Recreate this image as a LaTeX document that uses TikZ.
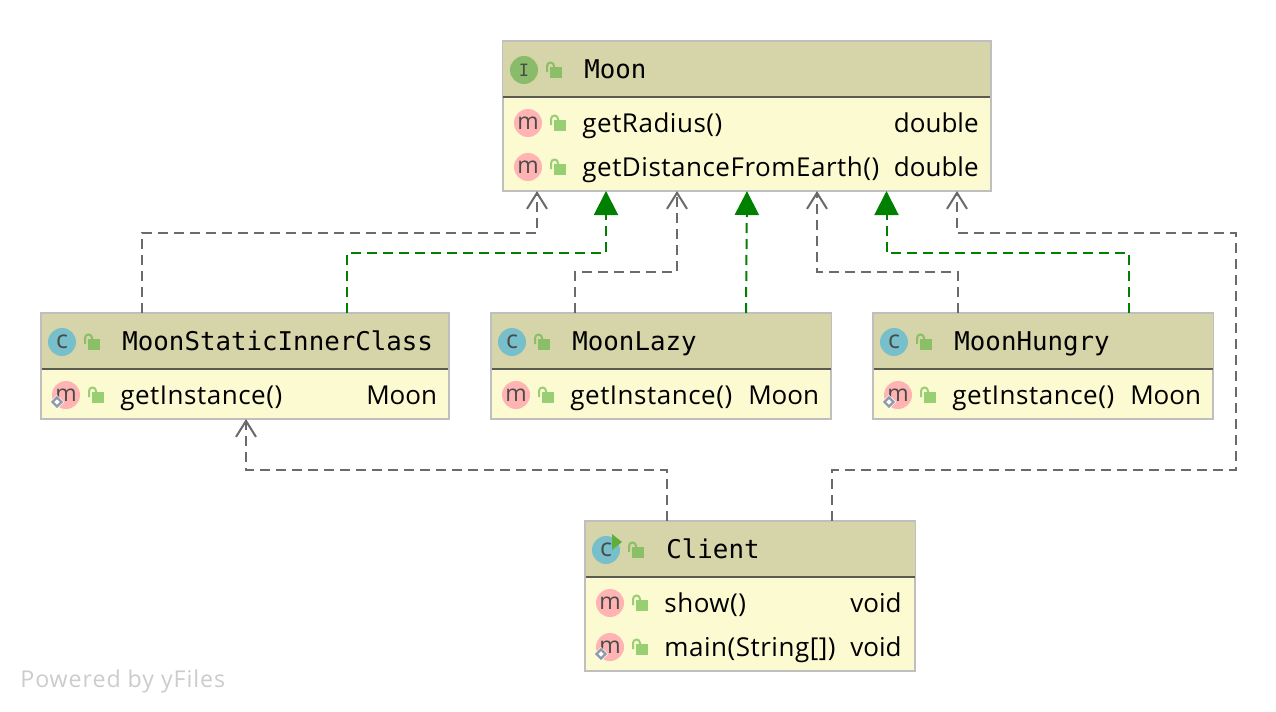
\documentclass[tikz,border=0pt]{standalone}
\usepackage{fontspec}
\setmainfont{Open Sans}
\newfontfamily\monofont{DejaVu Sans Mono}
\newfontfamily\namefont[LetterSpace=2]{Open Sans}
\newfontfamily\markfont[LetterSpace=4]{Open Sans}
\usetikzlibrary{arrows.meta}
\definecolor{headfill}{HTML}{D6D4A9}
\definecolor{rowfill}{HTML}{FCFAD1}
\definecolor{boxline}{HTML}{BFBFBF}
\definecolor{barline}{HTML}{5A5A50}
\definecolor{usesline}{HTML}{6A6A6A}
\definecolor{implline}{HTML}{008000}
\definecolor{lockhead}{HTML}{8ABF68}
\definecolor{lockrow}{HTML}{97CF72}
\definecolor{pinkfill}{HTML}{FFB3B3}
\definecolor{classfill}{HTML}{78BFCC}
\definecolor{facefill}{HTML}{8ABB6B}
\definecolor{glyphtext}{HTML}{4A4A4A}
\definecolor{staticgrey}{HTML}{8E9AA8}
\definecolor{runarrow}{HTML}{5FAE3C}
\tikzset{
  classbox/.style={draw=boxline,line width=1pt,fill=rowfill,inner sep=0pt,outer sep=0pt,anchor=north west},
  headbox/.style={fill=headfill,inner sep=0pt,outer sep=0pt,anchor=north west},
  titletext/.style={anchor=west,inner sep=0pt,text height=10.5pt,text depth=2pt,font=\monofont\fontsize{12.9}{14}\selectfont},
  rowtext/.style={anchor=west,inner sep=0pt,text height=11pt,text depth=2pt,font=\namefont\fontsize{13}{14}\selectfont},
  typetext/.style={anchor=east,inner sep=0pt,text height=11pt,text depth=2pt,font=\fontsize{13}{14}\selectfont},
  uses/.style={draw=usesline,line width=1pt,dash pattern=on 5pt off 3pt,-{Straight Barb[length=8pt,width=10pt,line width=1pt]}},
  impl/.style={draw=implline,line width=1pt,dash pattern=on 5pt off 3pt,-{Triangle[length=12pt,width=12pt,fill=implline]}},
  lockicon/.pic={
    \fill (-6,-3) rectangle (6,8);
    \draw[line width=1pt] (-9,2) -- (-9,-4) arc[start angle=180,end angle=360,radius=3.5] -- (-2,-3);
  },
  methodicon/.pic={
    \fill[fill=pinkfill] (0,0) circle[radius=14];
    \node[inner sep=0pt,text=glyphtext,font=\fontsize{11.5}{12}\selectfont] (glyph) at (0,0) {m};
  },
  staticmark/.pic={
    \fill[white] (0,-7) -- (7,0) -- (0,7) -- (-7,0) -- cycle;
    \draw[draw=staticgrey,line width=1.2pt] (0,-4.5) -- (4.5,0) -- (0,4.5) -- (-4.5,0) -- cycle;
  },
  classicon/.pic={
    \fill[fill=classfill] (0,0) circle[radius=14];
    \node[inner sep=0pt,text=glyphtext,font=\fontsize{12.5}{12}\selectfont] (glyph) at (0,0) {c};
  },
  faceicon/.pic={
    \fill[fill=facefill] (0,0) circle[radius=14];
    \node[inner sep=0pt,text=glyphtext,font=\monofont\fontsize{8.5}{10}\selectfont] (glyph) at (0,0) {I};
  },
}
\begin{document}
\begin{tikzpicture}[x=.5pt,y=-.5pt]
  \useasboundingbox (0,0) rectangle (1276,712);
  \fill[white] (0,0) rectangle (1276,712);

  % Moon
  \node[classbox,minimum width=244pt,minimum height=75pt] (moon) at (502.5,41) {};
  \node[headbox,minimum width=243.5pt,minimum height=27.5pt] (moonhead) at (503,41.5) {};
  \draw[barline,line width=1pt] (moonhead.south west) -- (moonhead.south east);
  \pic (moonface) at (524,70) {faceicon};
  \pic[lockhead] at (556,70) {lockicon};
  \node[titletext] (moontitle) at (584,70) {Moon};
  \pic (moonm1) at (528,123) {methodicon};
  \pic[lockrow] at (560,123) {lockicon};
  \node[rowtext] (moonname1) at (582,123) {getRadius()};
  \node[typetext] (moontype1) at (979,123) {double};
  \pic (moonm2) at (528,167) {methodicon};
  \pic[lockrow] at (560,167) {lockicon};
  \node[rowtext] (moonname2) at (582,167) {getDistanceFromEarth()};
  \node[typetext] (moontype2) at (979,167) {double};

  % MoonStaticInnerClass
  \node[classbox,minimum width=203.75pt,minimum height=53pt] (inner) at (41,313) {};
  \node[headbox,minimum width=203.25pt,minimum height=27.5pt] (innerhead) at (41.5,313.5) {};
  \draw[barline,line width=1pt] (innerhead.south west) -- (innerhead.south east);
  \pic (innerc) at (62,342) {classicon};
  \pic[lockhead] at (94,342) {lockicon};
  \node[titletext] (innertitle) at (122,342) {MoonStaticInnerClass};
  \pic (innerm) at (66,395) {methodicon};
  \pic at (57,402) {staticmark};
  \pic[lockrow] at (98,395) {lockicon};
  \node[rowtext] (innername) at (120,395) {getInstance()};
  \node[typetext] (innertype) at (437.5,395) {Moon};

  % MoonLazy
  \node[classbox,minimum width=170pt,minimum height=53pt] (lazy) at (491,313) {};
  \node[headbox,minimum width=169.5pt,minimum height=27.5pt] (lazyhead) at (491.5,313.5) {};
  \draw[barline,line width=1pt] (lazyhead.south west) -- (lazyhead.south east);
  \pic (lazyc) at (512,342) {classicon};
  \pic[lockhead] at (544,342) {lockicon};
  \node[titletext] (lazytitle) at (572,342) {MoonLazy};
  \pic (lazym) at (516,395) {methodicon};
  \pic[lockrow] at (548,395) {lockicon};
  \node[rowtext] (lazyname) at (570,395) {getInstance()};
  \node[typetext] (lazytype) at (819.5,395) {Moon};

  % MoonHungry
  \node[classbox,minimum width=170pt,minimum height=53pt] (hungry) at (873,313) {};
  \node[headbox,minimum width=169.5pt,minimum height=27.5pt] (hungryhead) at (873.5,313.5) {};
  \draw[barline,line width=1pt] (hungryhead.south west) -- (hungryhead.south east);
  \pic (hungryc) at (894,342) {classicon};
  \pic[lockhead] at (926,342) {lockicon};
  \node[titletext] (hungrytitle) at (954,342) {MoonHungry};
  \pic (hungrym) at (898,395) {methodicon};
  \pic at (889,402) {staticmark};
  \pic[lockrow] at (930,395) {lockicon};
  \node[rowtext] (hungryname) at (952,395) {getInstance()};
  \node[typetext] (hungrytype) at (1201.5,395) {Moon};

  % Client
  \node[classbox,minimum width=165pt,minimum height=75pt] (client) at (585,521) {};
  \node[headbox,minimum width=164.5pt,minimum height=27.5pt] (clienthead) at (585.5,521.5) {};
  \draw[barline,line width=1pt] (clienthead.south west) -- (clienthead.south east);
  \pic (clientc) at (606,550) {classicon};
  \fill[runarrow] (612,534) -- (622,542) -- (612,550) -- cycle;
  \pic[lockhead] at (638,550) {lockicon};
  \node[titletext] (clienttitle) at (666,550) {Client};
  \pic (clientm1) at (610,603) {methodicon};
  \pic[lockrow] at (642,603) {lockicon};
  \node[rowtext] (clientname1) at (664,603) {show()};
  \node[typetext] (clienttype1) at (902,603) {void};
  \pic (clientm2) at (610,647) {methodicon};
  \pic at (601,654) {staticmark};
  \pic[lockrow] at (642,647) {lockicon};
  \node[rowtext] (clientname2) at (664,647) {main(String[])};
  \node[typetext] (clienttype2) at (902,647) {void};

  % dependencies and realizations
  \draw[uses] ([xshift=50.5pt]inner.north west) -- ++(0,-80) -| ([xshift=17.25pt]moon.south west);
  \draw[impl] ([xshift=153pt]inner.north west) -- ++(0,-60) -| ([xshift=51.75pt]moon.south west);
  \draw[uses] ([xshift=42pt]lazy.north west) -- ++(0,-41) -| ([xshift=87.25pt]moon.south west);
  \draw[impl] ([xshift=127.5pt]lazy.north west) -- ([xshift=122.25pt]moon.south west);
  \draw[uses] ([xshift=42.5pt]hungry.north west) -- ++(0,-41) -| ([xshift=157.25pt]moon.south west);
  \draw[impl] ([xshift=128pt]hungry.north west) -- ++(0,-60) -| ([xshift=192pt]moon.south west);
  \draw[uses] ([xshift=41pt]client.north west) -- ++(0,-51) -| ([xshift=102.5pt]inner.south west);
  \draw[uses] ([xshift=123.5pt]client.north west) -- ++(0,-51) -- ++(404,0) -- ++(0,-237) -| ([xshift=227.25pt]moon.south west);

  \node[anchor=west,inner sep=0pt,text=black!20,font=\markfont\fontsize{11.6}{14}\selectfont] (powered) at (20,681) {Powered by yFiles};
\end{tikzpicture}
\end{document}
